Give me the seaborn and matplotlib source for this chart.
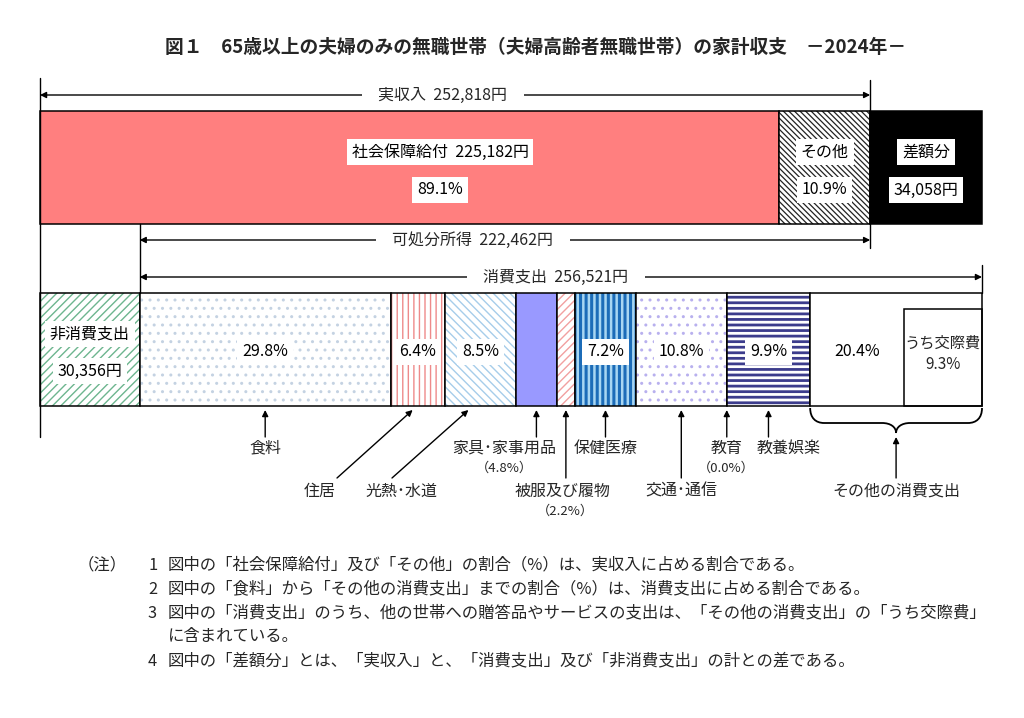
import numpy as np
import matplotlib
matplotlib.use("Agg")
import matplotlib.pyplot as plt
import seaborn as sns
from matplotlib.path import Path
from matplotlib.patches import PathPatch

# 収入側 (円)
income_labels = ["社会保障給付", "その他", "差額分"]
income_values = [225182, 27636, 34058]
income_pct = ["89.1%", "10.9%", ""]
real_income = 252818
disposable_income = 222462
non_consumption = 30356
consumption = 256521

# 消費支出の内訳 (%)
cons_labels = ["食料", "住居", "光熱･水道", "家具･家事用品", "被服及び履物",
               "保健医療", "交通･通信", "教育", "教養娯楽", "その他の消費支出"]
cons_pct = [29.8, 6.4, 8.5, 4.8, 2.2, 7.2, 10.8, 0.0, 9.9, 20.4]
kosai_pct = 9.3  # うち交際費

title = "図１　65歳以上の夫婦のみの無職世帯（夫婦高齢者無職世帯）の家計収支　－2024年－"
notes = [
    ("（注）", "1", "図中の「社会保障給付」及び「その他」の割合（%）は、実収入に占める割合である。"),
    ("", "2", "図中の「食料」から「その他の消費支出」までの割合（%）は、消費支出に占める割合である。"),
    ("", "3", "図中の「消費支出」のうち、他の世帯への贈答品やサービスの支出は、「その他の消費支出」の「うち交際費」"),
    ("", "", "に含まれている。"),
    ("", "4", "図中の「差額分」とは、「実収入」と、「消費支出」及び「非消費支出」の計との差である。"),
]

sns.set_theme(style="white")
plt.rcParams['font.family'] = ['Noto Sans CJK JP', 'DejaVu Sans']

W, H = 1024, 718
fig = plt.figure(figsize=(W / 100, H / 100), dpi=100)
ax = fig.add_axes([0, 0, 1, 1])
total = sum(income_values)
k = (982 - 40) / total          # px per yen
ax.set_xlim(-40 / k, (W - 40) / k)
ax.set_ylim(H, 0)
ax.axis("off")


def px(x):
    return (x - 40) / k


def seg(left, width, y, h, face, hatch=None, hcolor=None, hlw=1.0):
    if hatch:
        bars = ax.barh(y, width, height=h, left=left, color=face, edgecolor=hcolor,
                       hatch=hatch, linewidth=0)
        for b in bars:
            if hasattr(b, "set_hatch_linewidth"):
                b.set_hatch_linewidth(hlw)
    else:
        ax.barh(y, width, height=h, left=left, color=face, linewidth=0)
    ax.barh(y, width, height=h, left=left, fill=False, edgecolor="black", linewidth=1.1)


def boxed(x, y, s, size=11.5, pad=0.3):
    ax.text(x, y, s, ha="center", va="center", fontsize=size, color="black",
            bbox=dict(boxstyle=f"square,pad={pad}", fc="white", ec="none"))


def arrow(x0, y0, x1, y1):
    ax.annotate("", xy=(x1, y1), xytext=(x0, y0),
                arrowprops=dict(arrowstyle="-|>", color="black", lw=1.0,
                                mutation_scale=9, shrinkA=0, shrinkB=0))


def dim_arrow(x0, x1, y, s, tx):
    ax.annotate("", xy=(x1, y), xytext=(x0, y),
                arrowprops=dict(arrowstyle="<|-|>", color="black", lw=1.0,
                                mutation_scale=9, shrinkA=0, shrinkB=0))
    ax.text(tx, y, "　" + s + "　", ha="center", va="center", fontsize=11.5,
            bbox=dict(boxstyle="square,pad=0.05", fc="white", ec="none"))


# ---- 上段: 実収入 + 差額分
y_top, h_bar = 167.5, 113
inc_left = np.concatenate([[0], np.cumsum(income_values)[:-1]])
seg(inc_left[0], income_values[0], y_top, h_bar, "#FF7F7F")
seg(inc_left[1], income_values[1], y_top, h_bar, "white", "\\" * 6, "#222222", 0.9)
seg(inc_left[2], income_values[2], y_top, h_bar, "black")

boxed(px(440), 152, f"{income_labels[0]}  {income_values[0]:,}円")
boxed(px(440), 190, income_pct[0])
boxed(inc_left[1] + income_values[1] / 2, 152, income_labels[1])
boxed(inc_left[1] + income_values[1] / 2, 190, income_pct[1])
boxed(inc_left[2] + income_values[2] / 2, 152, income_labels[2])
boxed(inc_left[2] + income_values[2] / 2, 190, f"{income_values[2]:,}円")

# ---- 下段: 非消費支出 + 消費支出
y_bot = 349.5
seg(0, non_consumption, y_bot, h_bar, "white", "////", "#6DB58F", 1.0)
boxed(non_consumption / 2, 334, "非消費支出")
boxed(non_consumption / 2, 371, f"{non_consumption:,}円")

styles = [
    ("white", "..", "#C4D2E2", 1.0),      # 食料
    ("white", "|||", "#EE8A8A", 1.0),     # 住居
    ("white", "\\" * 4, "#A6CDEA", 1.0),  # 光熱・水道
    ("#9999FF", None, None, 1.0),         # 家具・家事用品
    ("white", "////", "#F2A0A0", 1.0),    # 被服及び履物
    ("#A8D6F2", "|||", "#1C6CB8", 2.2),   # 保健医療
    ("white", "..", "#B8B0EE", 1.0),      # 交通・通信
    ("white", None, None, 1.0),           # 教育
    ("white", "---", "#3C3C8C", 2.0),     # 教養娯楽
    ("white", None, None, 1.0),           # その他の消費支出
]
cons_w = np.array(cons_pct) / 100 * consumption
cons_left = non_consumption + np.concatenate([[0], np.cumsum(cons_w)[:-1]])
cons_mid = cons_left + cons_w / 2
for left, w, (fc, ht, hc, hl) in zip(cons_left, cons_w, styles):
    seg(left, w, y_bot, h_bar, fc, ht, hc, hl)

# うち交際費 の内枠
kosai_w = kosai_pct / 100 * consumption
cons_end = non_consumption + consumption
ax.barh(357.5, kosai_w, height=97, left=cons_end - kosai_w, fill=False,
        edgecolor="black", linewidth=1.1)
ax.text(cons_end - kosai_w / 2, 354, f"うち交際費\n{kosai_pct}%", ha="center",
        va="center", fontsize=11, linespacing=1.3)

for i in [0, 1, 2, 5, 6, 8]:
    boxed(cons_mid[i], 352, f"{cons_pct[i]}%")
boxed((cons_left[9] + cons_end - kosai_w) / 2, 352, f"{cons_pct[9]}%")

# ---- 寸法線
ax.plot([0, 0], [78, 437], color="black", lw=1.0)
ax.plot([real_income] * 2, [80, 248], color="black", lw=1.0)
ax.plot([non_consumption] * 2, [224, 293], color="black", lw=1.0)
ax.plot([cons_end] * 2, [265, 293], color="black", lw=1.0)

dim_arrow(0, real_income, 95, f"実収入  {real_income:,}円", px(443))
dim_arrow(non_consumption, real_income, 240, f"可処分所得  {disposable_income:,}円", px(473))
dim_arrow(non_consumption, cons_end, 277, f"消費支出  {consumption:,}円", px(556))

# ---- 下段の引き出し線とラベル
arrow(cons_mid[0], 437, cons_mid[0], 410)
ax.text(cons_mid[0], 448, cons_labels[0], ha="center", va="center", fontsize=11.5)

arrow(px(337), 478, cons_mid[1] - px(45) + px(40), 410)
ax.text(px(320), 491, cons_labels[1], ha="center", va="center", fontsize=11.5)

arrow(px(392), 478, cons_mid[2] - (px(52) - px(40)), 410)
ax.text(px(401), 491, cons_labels[2], ha="center", va="center", fontsize=11.5)

arrow(cons_mid[3], 437, cons_mid[3], 410)
ax.text(px(504), 448, cons_labels[3], ha="center", va="center", fontsize=11.5)
ax.text(px(504), 468, f"（{cons_pct[3]}%）", ha="center", va="center", fontsize=9.5)

arrow(cons_mid[4], 478, cons_mid[4], 410)
ax.text(px(563), 491, cons_labels[4], ha="center", va="center", fontsize=11.5)
ax.text(cons_mid[4], 511, f"（{cons_pct[4]}%）", ha="center", va="center", fontsize=9.5)

arrow(cons_mid[5], 437, cons_mid[5], 410)
ax.text(cons_mid[5], 448, cons_labels[5], ha="center", va="center", fontsize=11.5)

arrow(cons_mid[6], 478, cons_mid[6], 410)
ax.text(cons_mid[6], 491, cons_labels[6], ha="center", va="center", fontsize=11.5)

arrow(cons_left[7], 437, cons_left[7], 410)
ax.text(cons_left[7], 448, cons_labels[7], ha="center", va="center", fontsize=11.5)
ax.text(cons_left[7], 468, f"（{cons_pct[7]}%）", ha="center", va="center", fontsize=9.5)

arrow(cons_mid[8], 437, cons_mid[8], 410)
ax.text(px(789), 448, cons_labels[8], ha="center", va="center", fontsize=11.5)

# 波括弧
x0, x1 = cons_left[9], cons_end
xm = (x0 + x1) / 2
d = px(14) - px(0)
verts = [(x0, 408), (x0, 418), (x0 + d * 0.4, 423), (x0 + d, 423),
         (xm - d, 423),
         (xm - d * 0.4, 423), (xm, 427), (xm, 433),
         (xm, 427), (xm + d * 0.4, 423), (xm + d, 423),
         (x1 - d, 423),
         (x1 - d * 0.4, 423), (x1, 418), (x1, 408)]
codes = [Path.MOVETO, Path.CURVE4, Path.CURVE4, Path.CURVE4,
         Path.LINETO,
         Path.CURVE4, Path.CURVE4, Path.CURVE4,
         Path.CURVE4, Path.CURVE4, Path.CURVE4,
         Path.LINETO,
         Path.CURVE4, Path.CURVE4, Path.CURVE4]
ax.add_patch(PathPatch(Path(verts, codes), fill=False, edgecolor="black", lw=1.3))
arrow(xm, 478, xm, 437)
ax.text(xm, 491, cons_labels[9], ha="center", va="center", fontsize=11.5)

# ---- タイトルと注記
ax.text(px(536), 47, title, ha="center", va="center", fontsize=13.5, fontweight="bold")
for i, (head, num, body) in enumerate(notes):
    y = 565 + i * 24
    ax.text(px(78), y, head, ha="left", va="center", fontsize=11.8)
    ax.text(px(148), y, num, ha="left", va="center", fontsize=11.8)
    ax.text(px(168), y, body, ha="left", va="center", fontsize=11.8)

fig.savefig("out.png", dpi=100)
